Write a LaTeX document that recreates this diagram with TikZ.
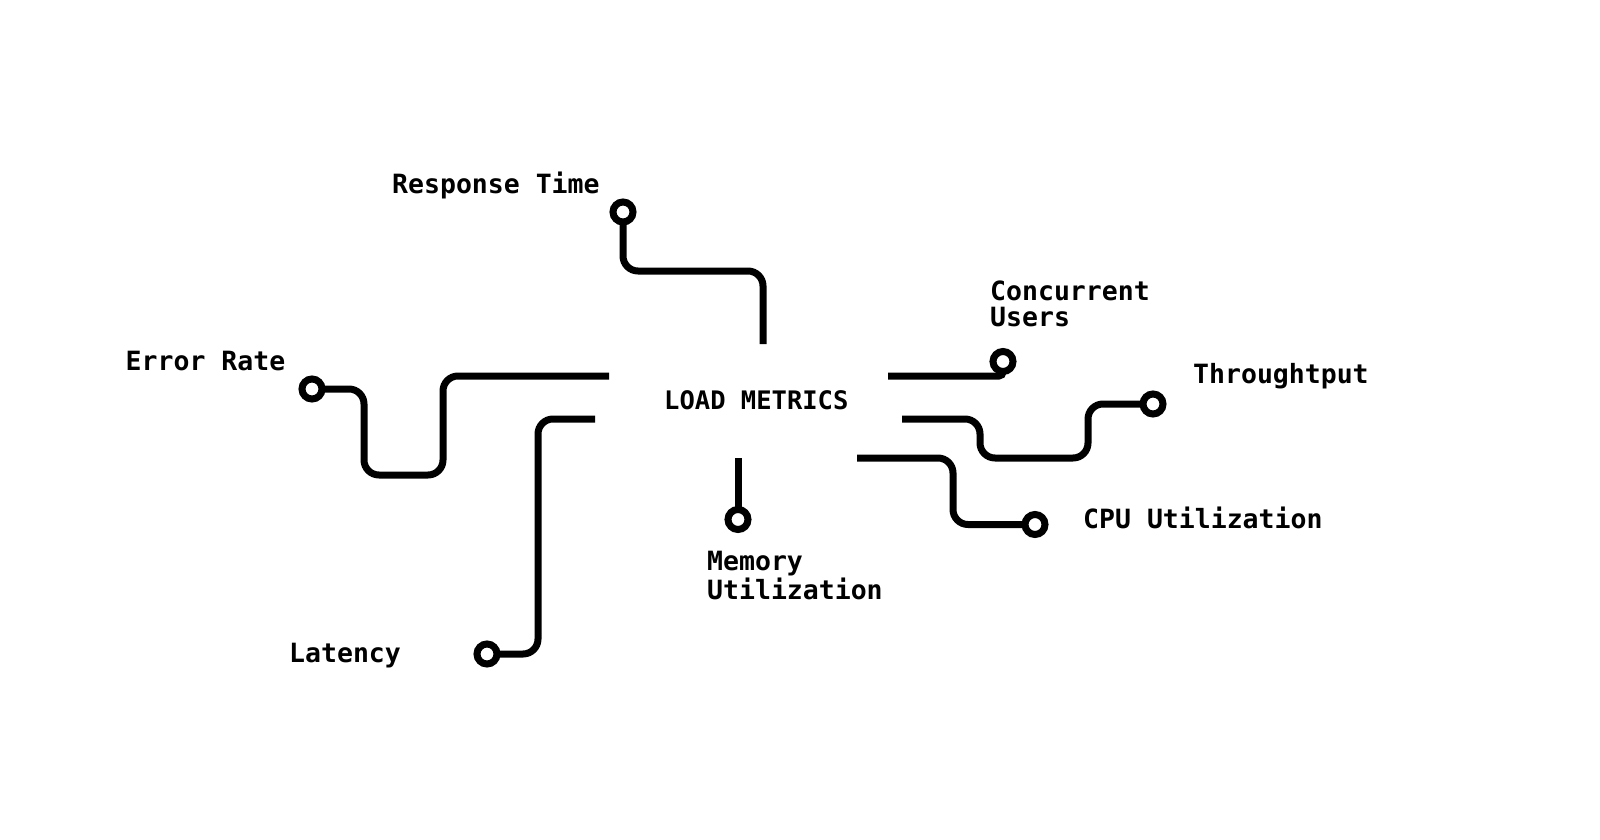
\documentclass[tikz,border=0pt]{standalone}
\usepackage{fontspec}
\setmonofont{DejaVu Sans Mono}

\begin{document}
\begin{tikzpicture}[x=1pt,y=-1pt,
    wire/.style={line width=7pt, rounded corners=15pt},
    dot/.style={circle, draw, line width=7pt, fill=white, inner sep=0pt, minimum size=20pt, outer sep=2pt},
    lbl/.style={anchor=base west, inner sep=0pt, align=left,
                font=\ttfamily\bfseries\fontsize{26.5}{26.5}\selectfont}]
      \useasboundingbox (0,0) rectangle (1600,840);
      % end points of the traces
      \coordinate (rtPin)  at (623,212);
      \coordinate (erPin)  at (312,389);
      \coordinate (latPin) at (487,654);
      \coordinate (memPin) at (738,519.5);
      \coordinate (cpuPin) at (1035,524.5);
      \coordinate (tpPin)  at (1153,404);
      \coordinate (cuPin)  at (1003,361.5);
      % free ends near the hub
      \coordinate (rtEnd)  at (763,344);
      \coordinate (erEnd)  at (609,376);
      \coordinate (latEnd) at (595,419);
      \coordinate (memEnd) at (738,458);
      \coordinate (cpuEnd) at (857,458);
      \coordinate (tpEnd)  at (902,419);
      \coordinate (cuEnd)  at (888,376);

      \draw[wire] (rtPin) |- (763,271) -- (rtEnd);
      \draw[wire] (erPin) -- (364,389) -- (364,475) -- (443,475) -- (443,376) -- (erEnd);
      \draw[wire] (latPin) -- (538,654) -- (538,419) -- (latEnd);
      \draw[wire] (memEnd) -- (memPin);
      \draw[wire] (cpuEnd) -- (953,458) -- (953,524.5) -- (cpuPin);
      \draw[wire] (tpEnd) -- (980,419) -- (980,458) -- (1088,458) -- (1088,404) -- (tpPin);
      \draw[wire, rounded corners=4pt] (cuEnd) -| (cuPin);

      \node[dot] (rtDot)  at (rtPin)  {};
      \node[dot] (erDot)  at (erPin)  {};
      \node[dot] (latDot) at (latPin) {};
      \node[dot] (memDot) at (memPin) {};
      \node[dot] (cpuDot) at (cpuPin) {};
      \node[dot] (tpDot)  at (tpPin)  {};
      \node[dot] (cuDot)  at (cuPin)  {};

      \node[lbl, font=\ttfamily\bfseries\fontsize{25.5}{25.5}\selectfont] (hub) at (664,409.5) {LOAD METRICS};
      \node[lbl] (rtLbl)  at (392,193)   {Response Time};
      \node[lbl] (erLbl)  at (125.5,370) {Error Rate};
      \node[lbl] (latLbl) at (289,662)   {Latency};
      \node[lbl] (memLbl) at (707,599)   {Memory\\Utilization};
      \node[lbl] (cuLbl)  at (990,326.5) {Concurrent\\Users};
      \node[lbl] (tpLbl)  at (1193,383.5) {Throughtput};
      \node[lbl] (cpuLbl) at (1083,528.5) {CPU Utilization};
\end{tikzpicture}
\end{document}
